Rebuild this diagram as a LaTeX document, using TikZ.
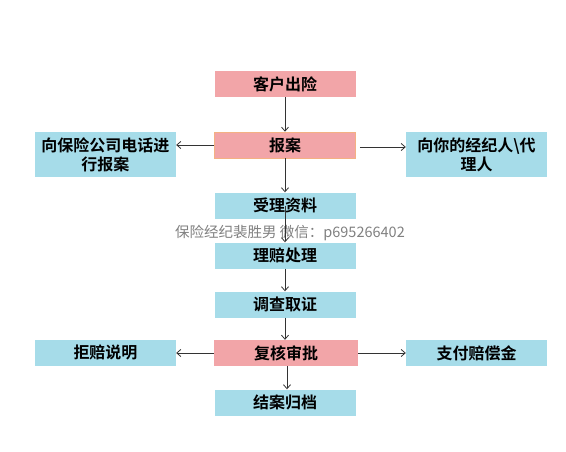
\documentclass[tikz,border=0pt]{standalone}
\usepackage{fontspec}
\usepackage{tikz}
\usetikzlibrary{arrows.meta}
\newfontfamily\cjk{Noto Sans CJK SC}[BoldFont={Noto Sans CJK SC Bold}]
\definecolor{pinkfill}{HTML}{F2A5A8}
\definecolor{bluefill}{HTML}{A6DCE9}
\definecolor{orangeline}{HTML}{F4B183}
\definecolor{markgray}{HTML}{808080}

\tikzset{
    pinkbox/.style={fill=pinkfill,minimum width=141pt,minimum height=26pt,inner sep=0pt,font=\cjk\bfseries\fontsize{16}{19}\selectfont},
    bluebox/.style={fill=bluefill,minimum width=141pt,minimum height=26pt,inner sep=0pt,font=\cjk\bfseries\fontsize{16}{19}\selectfont},
    sidebox/.style={bluebox,minimum height=45pt,align=center},
    arr/.style={-{Straight Barb[length=4pt,width=7pt]},draw=black!80,line width=0.8pt}
}

\begin{document}
\begin{tikzpicture}[x=1pt,y=-1pt]
        \useasboundingbox (0,0) rectangle (566,451); % page size

        \node[pinkbox] (chuxian) at (285,84) {客户出险};
        \node[pinkbox,draw=orangeline,line width=0.6pt] (baoan) at (285,145) {报案};
        \node[sidebox] (dianhua) at (105.5,154.5) {向保险公司电话进\\行报案};
        \node[sidebox] (jingji) at (476.5,154.5) {向你的经纪人\textbackslash 代\\理人};
        \node[bluebox] (shouli) at (285,205.5) {受理资料};

        % watermark
        \node[font=\cjk\fontsize{14.5}{16}\selectfont,text=markgray] (mark) at (290,233) {保险经纪裴胜男 微信：p695266402};

        \node[bluebox] (lipei) at (285,255.5) {理赔处理};
        \node[bluebox] (diaocha) at (285,304.5) {调查取证};
        \node[pinkbox,minimum width=144pt] (fuhe) at (286,353) {复核审批};
        \node[bluebox] (jupei) at (105.5,352.5) {拒赔说明};
        \node[bluebox] (zhifu) at (476.5,353) {支付赔偿金};
        \node[bluebox] (jiean) at (285,402.5) {结案归档};

        % main flow
        \draw[arr] (chuxian) -- (baoan);
        \draw[arr] (baoan) -- (shouli);
        \draw[arr] (shouli.center) -- (lipei.north);
        \draw[arr] (lipei) -- (diaocha);
        \draw[arr] (diaocha) -- (diaocha.south |- fuhe.north);
        \draw[arr] (fuhe.south -| jiean.north) ++(2,0) -- ([xshift=2pt]jiean.north);

        % side branches
        \draw[arr] (baoan.west) -- (baoan.west -| dianhua.east);
        \draw[arr] ([xshift=4pt,yshift=-2pt]baoan.east) -- ([yshift=-2pt]baoan.east -| jingji.west);
        \draw[arr] (fuhe.west) -- (fuhe.west -| jupei.east);
        \draw[arr] (fuhe.east) -- (fuhe.east -| zhifu.west);
    \end{tikzpicture}
\end{document}
